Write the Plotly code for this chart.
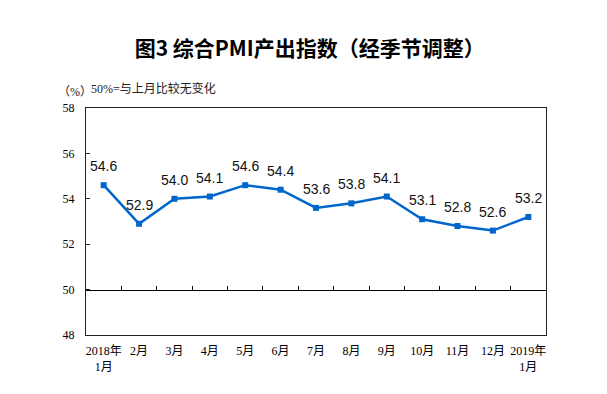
import plotly.graph_objects as go

categories = ["2018年<br>1月", "2月", "3月", "4月", "5月", "6月", "7月", "8月", "9月",
              "10月", "11月", "12月", "2019年<br>1月"]
values = [54.6, 52.9, 54.0, 54.1, 54.6, 54.4, 53.6, 53.8, 54.1, 53.1, 52.8, 52.6, 53.2]
y_ticks = [48, 50, 52, 54, 56, 58]
baseline = 50

idx = list(range(len(categories)))
serif = "Liberation Serif, Times New Roman, Noto Sans CJK SC, serif"

fig = go.Figure()
fig.add_trace(go.Scatter(
    x=idx, y=values, mode="lines+markers",
    line=dict(color="#0066CC", width=2.5),
    marker=dict(symbol="square", size=6, color="#0066CC"),
    showlegend=False, hoverinfo="skip"))
# helper trace so the baseline axis is drawn
fig.add_trace(go.Scatter(
    x=[0], y=[baseline], xaxis="x2", mode="markers",
    marker=dict(opacity=0), showlegend=False, hoverinfo="skip"))

for i, v in zip(idx, values):
    fig.add_annotation(x=i, y=v, text=f"{v:.1f}", showarrow=False,
                       yanchor="middle", yshift=19,
                       font=dict(family="Liberation Sans, Arial, sans-serif", size=14, color="#111"))

fig.add_annotation(xref="paper", yref="paper", x=-0.066, y=1.070, xanchor="left", yanchor="middle",
                   text="（%）", showarrow=False,
                   font=dict(family=serif, size=12, color="#222"))
fig.add_annotation(xref="paper", yref="paper", x=0.007, y=1.088, xanchor="left", yanchor="middle",
                   text="50%=与上月比较无变化", showarrow=False,
                   font=dict(family=serif, size=12, color="#222"))

ymin, ymax = y_ticks[0], y_ticks[-1]
fig.update_layout(
    width=607, height=394,
    margin=dict(l=77.5, r=68.5, t=100, b=66.5),
    paper_bgcolor="white", plot_bgcolor="white",
    title=dict(text="<b>图3 综合PMI产出指数（经季节调整）</b>",
               xref="container", yref="container", x=0.497, y=0.896,
               xanchor="center", yanchor="middle",
               font=dict(family="Noto Sans CJK SC, sans-serif", size=21, color="#000")),
    xaxis=dict(range=[-0.5, len(categories) - 0.5], tickmode="array",
               tickvals=idx, ticktext=categories, ticks="", ticklabelstandoff=5,
               showline=True, linecolor="#222", linewidth=1, mirror=True,
               showgrid=False, zeroline=False,
               tickfont=dict(family=serif, size=12, color="#000")),
    xaxis2=dict(overlaying="x", anchor="free", position=(baseline - ymin) / (ymax - ymin),
                range=[-0.5, len(categories) - 0.5], tickmode="array",
                tickvals=[i + 0.5 for i in idx[:-1]], ticks="inside", ticklen=4,
                tickcolor="#000", showticklabels=False,
                showline=True, linecolor="#000", linewidth=1.2,
                showgrid=False, zeroline=False),
    yaxis=dict(range=[ymin, ymax], tickmode="array", tickvals=y_ticks,
               ticks="inside", ticklen=4, tickcolor="#222", ticklabelstandoff=8,
               showline=True, linecolor="#222", linewidth=1, mirror=True,
               showgrid=False, zeroline=False,
               tickfont=dict(family=serif, size=12, color="#000")),
)

fig.write_html("out.html")
